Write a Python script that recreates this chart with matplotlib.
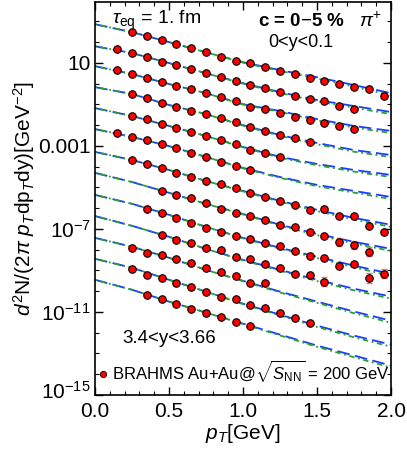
import numpy as np
import matplotlib.pyplot as plt
import matplotlib.transforms as mtransforms
from matplotlib.lines import Line2D
from matplotlib.ticker import FixedLocator, FixedFormatter, MultipleLocator

plt.rcParams['font.family'] = ['Liberation Sans', 'DejaVu Sans']
plt.rcParams['mathtext.fontset'] = 'custom'
plt.rcParams['mathtext.rm'] = 'Liberation Sans'
plt.rcParams['mathtext.it'] = 'Liberation Sans:italic'
plt.rcParams['mathtext.bf'] = 'Liberation Sans:bold'

# hydro curves: log10(yield) at these pT, one list per rapidity bin (already scaled)
pt_curve = [0.0, 0.25, 0.5, 0.75, 1.0, 1.25, 1.5, 1.75, 2.0]
curve_log = [
    [2.86, 2.48, 2.00, 1.51, 1.03, 0.65, 0.31, -0.07, -0.46],
    [1.80, 1.47, 0.99, 0.50, 0.02, -0.41, -0.79, -1.08, -1.37],
    [0.84, 0.46, -0.02, -0.46, -0.99, -1.32, -1.71, -2.04, -2.28],
    [-0.17, -0.50, -1.03, -1.47, -2.00, -2.48, -2.86, -3.20, -3.44],
    [-1.18, -1.56, -2.04, -2.52, -3.05, -3.53, -3.87, -4.16, -4.40],
    [-2.19, -2.57, -3.01, -3.53, -4.06, -4.50, -4.88, -5.17, -5.46],
    [-3.29, -3.68, -4.16, -4.69, -5.17, -5.65, -6.08, -6.47, -6.80],
    [-4.30, -4.74, -5.26, -5.79, -6.28, -6.80, -7.24, -7.62, -7.96],
    [-5.36, -5.79, -6.32, -6.90, -7.43, -7.91, -8.34, -8.77, -9.16],
    [-6.38, -6.85, -7.38, -7.96, -8.49, -8.97, -9.45, -9.88, -10.26],
    [-7.43, -7.86, -8.39, -8.97, -9.50, -10.02, -10.50, -10.98, -11.42],
    [-8.44, -8.87, -9.45, -10.02, -10.60, -11.13, -11.66, -12.14, -12.57],
    [-9.45, -9.93, -10.50, -11.03, -11.56, -12.09, -12.62, -13.10, -13.58],
]
# second (dotted) calculation differs a little at high pT
green_diff = [0.0, 0.0, 0.0, 0.0, -0.02, -0.04, -0.06, -0.08, -0.10]

# BRAHMS pi+ data, log10(yield)
pt_bins = [0.15, 0.25, 0.35, 0.45, 0.55, 0.65, 0.75, 0.85, 0.95, 1.05,
           1.15, 1.25, 1.35, 1.45, 1.55, 1.65, 1.75, 1.85, 1.95]
data_first = [1, 0, 0, 1, 1, 0, 1, 3, 2, 3, 1, 1, 2]
data_log = [
    [2.48, 2.28, 2.09, 1.90, 1.71, 1.51, 1.27, 1.08, 0.99, 0.79, 0.60, 0.46, 0.26, 0.12, -0.02, -0.17, -0.26, -0.60],
    [1.66, 1.47, 1.27, 1.03, 0.89, 0.70, 0.50, 0.31, 0.12, -0.07, -0.22, -0.41, -0.60, -0.75, -0.84, -1.08, -1.23],
    [0.65, 0.46, 0.26, 0.07, -0.12, -0.26, -0.46, -0.65, -0.84, -1.13, -1.23, -1.42, -1.61, -1.75, -1.90, -2.04, -2.19],
    [-0.50, -0.70, -0.94, -1.13, -1.32, -1.47, -1.66, -1.85, -2.09, -2.28, -2.48, -2.62, -2.81],
    [-1.56, -1.71, -1.95, -2.14, -2.33, -2.52, -2.72, -2.91, -3.20, -3.34, -3.53],
    [-2.38, -2.57, -2.72, -2.91, -3.10, -3.34, -3.53, -3.78, -3.97, -4.16],
    [-3.68, -3.87, -4.06, -4.30, -4.50, -4.69, -4.83, -5.02, -5.26, -5.46, -5.65, -5.84, -6.08, -6.04, -6.38, -6.38, -6.85, -7.14],
    [-5.17, -5.36, -5.51, -5.75, -6.04, -6.23, -6.38, -6.57, -6.80, -6.90, -7.14, -7.33, -7.62, -7.77, -8.10],
    [-6.04, -6.23, -6.47, -6.71, -6.95, -7.14, -7.33, -7.48, -7.67, -7.81, -8.05, -8.29, -8.39, -8.77, -8.68, -9.35, -9.16],
    [-7.28, -7.52, -7.67, -7.91, -8.01, -8.34, -8.44, -8.68, -8.87, -9.16, -9.21, -9.54],
    [-7.91, -8.15, -8.25, -8.44, -8.63, -8.87, -9.06, -9.25, -9.59, -9.59],
    [-8.92, -9.21, -9.35, -9.59, -9.78, -10.02, -10.26, -10.36, -10.65, -10.79, -11.03, -11.27, -11.52],
    [-10.17, -10.36, -10.60, -10.84, -11.03, -11.23, -11.47, -11.66],
]
# visible error bars: (row, pT, relative error)
err_pts = [(7, 1.65, 0.35), (7, 1.75, 0.35), (7, 1.85, 0.4),
           (8, 1.85, 0.45), (8, 1.95, 0.4), (9, 1.55, 0.4)]

ytick_vals = [1e1, 1e-3, 1e-7, 1e-11, 1e-15]
ytick_labels = ['10', '0.001', r'$10^{-7}$', r'$10^{-11}$', r'$10^{-15}$']

fig = plt.figure(figsize=(4.07, 4.5), dpi=100)
ax = fig.add_axes([0.2334, 0.1222, 0.7273, 0.8733])

for i in range(len(curve_log)):
    c = np.array(curve_log[i])
    ax.plot(pt_curve, 10**c, color='#1a3cff', lw=1.3, ls=(0, (7, 3)), zorder=2)
    ax.plot(pt_curve, 10**(c + np.array(green_diff)), color='#2ca02c', lw=1.3,
            ls=(0, (1, 2, 3, 2)), zorder=2)

for i in range(len(data_log)):
    i0 = data_first[i]
    d = data_log[i]
    x = pt_bins[i0:i0 + len(d)]
    ax.plot(x, 10**np.array(d), 'o', ms=5.4, mfc='#ff0000', mec='black', mew=0.8, zorder=4)

for row, pt, rel in err_pts:
    k = pt_bins.index(pt) - data_first[row]
    v = 10**data_log[row][k]
    ax.errorbar([pt], [v], yerr=[[v * rel], [v * rel * 1.6]], fmt='none',
                ecolor='#ff7070', elinewidth=1.0, capsize=2, zorder=3)

ax.set_yscale('log')
ax.set_xlim(0, 2.0)
ax.set_ylim(1e-15, 10**3.93)

ax.set_xticks([0, 0.5, 1.0, 1.5, 2.0])
ax.set_xticklabels(['0.0', '0.5', '1.0', '1.5', '2.0'])
ax.xaxis.set_minor_locator(MultipleLocator(0.1))
ax.yaxis.set_major_locator(FixedLocator(ytick_vals))
ax.yaxis.set_major_formatter(FixedFormatter(ytick_labels))
ax.yaxis.set_minor_locator(FixedLocator([10.0**k for k in range(-15, 4)]))
ax.yaxis.set_minor_formatter(FixedFormatter([]))
ax.tick_params(which='both', direction='in', top=True, right=True, labelsize=15, pad=3)
ax.tick_params(which='major', length=6, width=1)
ax.tick_params(which='minor', length=3, width=0.8)
ax.tick_params(axis='x', pad=5)
for s in ax.spines.values():
    s.set_linewidth(1.2)

# lift the lowest y label a little, as in the original
fig.canvas.draw()
lab = ax.get_yticklabels()[-1]
lab.set_transform(lab.get_transform() + mtransforms.ScaledTranslation(0, 4 / 72, fig.dpi_scale_trans))

ax.set_xlabel(r'$p_T$[GeV]', fontsize=15, labelpad=1)
ax.set_ylabel(r'$d^2$N/(2$\pi$ $p_T$dp$_T$dy)[GeV$^{-2}$]', fontsize=15, labelpad=1)

ax.text(0.057, 0.952, r'$\tau_{\rm eq}$ = 1. fm', transform=ax.transAxes,
        fontsize=14, ha='left', va='center')
ax.text(0.551, 0.950, r'c = 0$-$5 %', transform=ax.transAxes,
        fontsize=13.5, fontweight='bold', ha='left', va='center')
ax.text(0.893, 0.952, r'$\pi^{+}$', transform=ax.transAxes,
        fontsize=14, ha='left', va='center')
ax.text(0.584, 0.897, '0<y<0.1', transform=ax.transAxes,
        fontsize=13, ha='left', va='center')
ax.text(0.091, 0.145, '3.4<y<3.66', transform=ax.transAxes,
        fontsize=13.5, ha='left', va='center')

h = Line2D([], [], marker='o', ls='none', ms=4.5, mfc='#ff0000', mec='black', mew=0.6)
ax.legend([h], [r'BRAHMS Au+Au@$\sqrt{S_{\rm NN}}$ = 200 GeV'], loc='lower left',
          bbox_to_anchor=(-0.03, -0.002), frameon=False, fontsize=12.0,
          handlelength=0.6, handletextpad=0.25, borderpad=0.2)

fig.savefig('out.png', dpi=100)
